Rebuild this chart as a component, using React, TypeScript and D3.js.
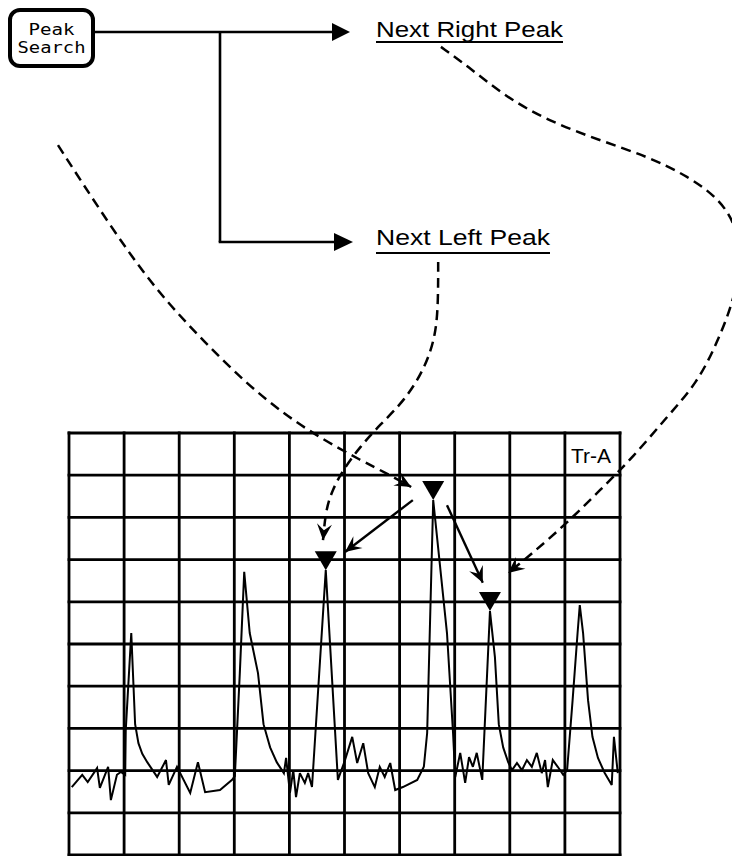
import React from 'react';
import * as d3 from 'd3';

// ---- trace data (x in graticule divisions, level in divisions from bottom) ----
const traceX = [
  0.05, 0.24, 0.34, 0.51, 0.56, 0.71, 0.76, 0.87, 0.94, 1.02, 1.03, 1.13, 1.2, 1.26, 1.33, 1.42, 1.6,
  1.76, 1.81, 1.96, 2.2, 2.34, 2.47, 2.74, 2.96, 3.01, 3.1, 3.18, 3.28, 3.43, 3.53, 3.65, 3.77,
  3.9, 3.94, 4.01, 4.07, 4.12, 4.19, 4.28, 4.34, 4.41, 4.66, 4.88, 5.01, 5.14, 5.23, 5.34, 5.43,
  5.55, 5.64, 5.73, 5.83, 5.92, 6.06, 6.32, 6.44, 6.5, 6.61, 6.86, 6.97, 7.01, 7.1, 7.19, 7.26,
  7.33, 7.4, 7.5, 7.64, 7.73, 7.8, 7.88, 7.97, 8.04, 8.13, 8.22, 8.31, 8.4, 8.49, 8.58, 8.64, 8.69,
  8.78, 8.87, 8.97, 9.04, 9.14, 9.23, 9.27, 9.33, 9.42, 9.5, 9.6, 9.72, 9.85, 9.89, 9.96,
];
const traceLevel = [
  1.61, 1.9, 1.73, 2.06, 1.59, 2.09, 1.3, 1.9, 1.97, 1.9, 2.96, 5.26, 3.1, 2.65, 2.4, 2.2, 1.85,
  2.25, 1.66, 2.09, 1.47, 2.2, 1.49, 1.54, 1.78, 1.87, 4.31, 6.71, 5.26, 4.31, 3.1, 2.55, 2.2,
  1.94, 2.3, 1.47, 2.01, 1.37, 1.94, 1.71, 1.94, 1.61, 6.75, 1.78, 2.25, 2.8, 2.18, 2.65, 1.94,
  1.61, 2.09, 1.85, 2.18, 1.54, 1.61, 1.78, 2.09, 2.89, 8.41, 5.26, 2.89, 1.85, 2.42, 1.71, 2.32,
  2.09, 2.42, 1.78, 5.78, 4.69, 3.1, 2.55, 2.2, 2.01, 2.18, 2.01, 2.25, 2.09, 2.42, 1.94, 2.25, 1.61,
  2.25, 2.09, 1.9, 2.01, 3.67, 5.26, 5.92, 5.26, 3.67, 2.8, 2.3, 1.95, 1.66, 2.8, 1.94,
];
const markedPeakX = [4.66, 6.61, 7.64];
const gridTicks = d3.range(0, 11);
const traceLabel = 'Tr-A';
const keyLabel = ['Peak', 'Search'];
const rightLabel = 'Next Right Peak';
const leftLabel = 'Next Left Peak';

// ---- annotation paths (graticule units) ----
const searchPathX = [-0.2, 0.7, 1.56, 2.5, 3.2, 3.9, 4.6, 5.3, 5.8, 6.21];
const searchPathY = [16.82, 15.0, 13.4, 12.1, 11.2, 10.45, 9.85, 9.35, 9.02, 8.72];
const leftPathX = [6.7, 6.7, 6.66, 6.46, 6.1, 5.64, 5.28, 4.97, 4.78, 4.66, 4.61];
const leftPathY = [14.05, 13.15, 12.32, 11.54, 10.78, 10.19, 9.67, 9.12, 8.65, 8.18, 7.46];
const rightPathX = [6.75, 7.21, 7.93, 8.7, 9.62, 10.53, 11.25, 11.8, 12.12, 12.2, 12.05, 11.76, 11.4, 10.85, 10.24, 9.64, 9.04, 8.42, 7.97];
const rightPathY = [19.15, 18.72, 17.96, 17.4, 16.94, 16.54, 16.07, 15.55, 14.9, 14.05, 13.08, 12.13, 11.18, 10.38, 9.43, 8.65, 7.87, 7.16, 6.68];
const moveLeftX = [6.24, 5.01];
const moveLeftY = [8.41, 7.18];
const moveRightX = [6.86, 7.51];
const moveRightY = [8.29, 6.45];

const W = 732;
const H = 856;

export default function App() {
  const x = d3.scaleLinear().domain([0, 10]).range([69, 620]);
  const y = d3.scaleLinear().domain([0, 10]).range([855, 433]);

  const traceLine = d3
    .line<number>()
    .x((_, i) => x(traceX[i]))
    .y((d) => y(d));
  const curve = d3
    .line<[number, number]>()
    .x((d) => x(d[0]))
    .y((d) => y(d[1]))
    .curve(d3.curveBasis);
  const straight = d3
    .line<[number, number]>()
    .x((d) => x(d[0]))
    .y((d) => y(d[1]));
  const zipPts = (xs: number[], ys: number[]) => xs.map((v, i) => [v, ys[i]] as [number, number]);

  const markers = markedPeakX.map((px) => {
    const i = traceX.indexOf(px);
    return { cx: x(traceX[i]), cy: y(traceLevel[i]) };
  });

  const ink = '#000';
  const font = '"Liberation Sans", Arial, Helvetica, sans-serif';
  const mono = '"DejaVu Sans Mono", "Liberation Mono", monospace';

  return (
    <svg
      width={W}
      height={H}
      viewBox={`0 0 ${W} ${H}`}
      style={{ position: 'absolute', left: 0, top: 0, background: '#fff' }}
    >
      <defs>
        <marker id="barb" markerUnits="userSpaceOnUse" markerWidth="20" markerHeight="20" refX="0" refY="0" viewBox="-14 -8 16 16" orient="auto">
          <path d="M0,0 L-13,-6 L-8,0 L-13,6 Z" fill={ink} />
        </marker>
      </defs>
      <rect x={0} y={0} width={W} height={H} fill="#fff" />

      {/* key diagram */}
      <rect x={10} y={10} width={83} height={56} rx={10} ry={10} fill="none" stroke={ink} strokeWidth={4} />
      <text x={51.5} y={35} textAnchor="middle" fontFamily={mono} fontSize={15} textLength={46} lengthAdjust="spacingAndGlyphs" fill={ink}>
        {keyLabel[0]}
      </text>
      <text x={51.5} y={53} textAnchor="middle" fontFamily={mono} fontSize={15} textLength={68} lengthAdjust="spacingAndGlyphs" fill={ink}>
        {keyLabel[1]}
      </text>
      <line x1={95} y1={32} x2={336} y2={32} stroke={ink} strokeWidth={2.6} />
      <line x1={220} y1={32} x2={220} y2={242} stroke={ink} strokeWidth={2.6} />
      <line x1={218.7} y1={242} x2={338} y2={242} stroke={ink} strokeWidth={2.6} />
      <path d="M350,32 L332,23 L332,41 Z" fill={ink} />
      <path d="M353,242 L334,233 L334,251 Z" fill={ink} />

      <text x={376} y={37} fontFamily={font} fontSize={22} textLength={187} lengthAdjust="spacingAndGlyphs" fill={ink}>
        {rightLabel}
      </text>
      <line x1={376} y1={42} x2={563} y2={42} stroke={ink} strokeWidth={2} />
      <text x={376} y={245} fontFamily={font} fontSize={22} textLength={174} lengthAdjust="spacingAndGlyphs" fill={ink}>
        {leftLabel}
      </text>
      <line x1={376} y1={253} x2={550} y2={253} stroke={ink} strokeWidth={2} />

      {/* graticule */}
      <g stroke={ink} strokeWidth={2.8} strokeLinecap="square">
        {gridTicks.map((t) => (
          <line key={'v' + t} x1={x(t)} x2={x(t)} y1={y(0)} y2={y(10)} />
        ))}
        {gridTicks.map((t) => (
          <line key={'h' + t} x1={x(0)} x2={x(10)} y1={y(t)} y2={y(t)} />
        ))}
      </g>
      <text x={611} y={463} textAnchor="end" fontFamily={font} fontSize={21} fill={ink}>
        {traceLabel}
      </text>

      {/* trace */}
      <path d={traceLine(traceLevel) || ''} fill="none" stroke={ink} strokeWidth={2} strokeLinejoin="miter" strokeMiterlimit={3} />

      {/* peak markers */}
      {markers.map((m, i) => (
        <path key={i} d={`M${m.cx},${m.cy} L${m.cx - 11},${m.cy - 19} L${m.cx + 11},${m.cy - 19} Z`} fill={ink} />
      ))}

      {/* annotation arrows */}
      <g fill="none" stroke={ink} strokeWidth={2.5} strokeDasharray="10 6">
        <path d={curve(zipPts(searchPathX, searchPathY)) || ''} markerEnd="url(#barb)" />
        <path d={curve(zipPts(leftPathX, leftPathY)) || ''} markerEnd="url(#barb)" />
        <path d={curve(zipPts(rightPathX, rightPathY)) || ''} markerEnd="url(#barb)" />
      </g>
      <g fill="none" stroke={ink} strokeWidth={2.4}>
        <path d={straight(zipPts(moveLeftX, moveLeftY)) || ''} markerEnd="url(#barb)" />
        <path d={straight(zipPts(moveRightX, moveRightY)) || ''} markerEnd="url(#barb)" />
      </g>
    </svg>
  );
}
